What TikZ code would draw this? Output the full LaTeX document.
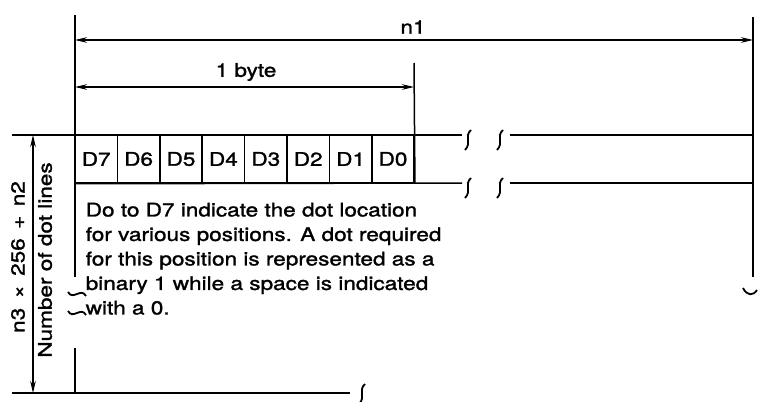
\documentclass[tikz,border=0pt]{standalone}
\usepackage{fontspec}
\setmainfont{TeX Gyre Heros}[FakeStretch=1.2]
\newfontfamily\lblfont{TeX Gyre Heros}[FakeStretch=1.2,FakeBold=1.4]
\usetikzlibrary{arrows.meta}
\begin{document}
\begin{tikzpicture}[x=0.5pt,y=-0.5pt,line width=0.75pt,
  lbl/.style={inner sep=0pt,font=\lblfont\fontsize{9.4}{12.25}\selectfont},
  cell/.style={draw,minimum width=21.2pt,minimum height=24pt,inner sep=0pt,lbl},
  dim/.style={{Stealth[length=6pt,width=2.8pt]}-{Stealth[length=6pt,width=2.8pt]}},
  vbrk/.pic={\draw[line width=0.9pt] (3,-5) .. controls (-4,1) and (4,8) .. (-3,15);},
  hbrk/.pic={\draw[line width=0.9pt] (-9,-2) .. controls (-4,7) and (4,-7) .. (9,2);},
  smile/.pic={\draw[line width=0.9pt] (-8,-4) .. controls (-4,4) and (2,4) .. (6,-2);}]
\useasboundingbox (0,0) rectangle (758,401);

% key coordinates
\coordinate (Ltop) at (75,15);
\coordinate (Lbrk) at (75,277);
\coordinate (Lres) at (75,348);
\coordinate (Lbot) at (75,393);
\coordinate (Rtop) at (753,17);
\coordinate (Rbot) at (753,277);
\coordinate (Btop) at (414,63);
\coordinate (n1L) at (75,40);
\coordinate (n1R) at (753,40);
\coordinate (byL) at (75,87);
\coordinate (byR) at (414,87);
\coordinate (rowTL) at (12,135);
\coordinate (rowTM) at (462,135);
\coordinate (rowTN) at (510,135);
\coordinate (rowTR) at (753,135);
\coordinate (rowBM) at (462,183);
\coordinate (rowBN) at (510,183);
\coordinate (rowBR) at (753,183);
\coordinate (botL) at (12,393);
\coordinate (botM) at (350,393);
\coordinate (hA) at (33,135);
\coordinate (hB) at (33,393);

% cells
\foreach \i/\t in {0/D7,1/D6,2/D5,3/D4,4/D3,5/D2,6/D1,7/D0}
  \node[cell] (c\i) at ({75+42.4*(\i+0.5)},159) {\t};

% lines
\draw (Ltop) -- (Lbrk);
\draw (Lres) -- (Lbot);
\draw (Rtop) -- (Rbot);
\draw (Btop) -- (c7.south east);
\draw (rowTL) -- (rowTM);
\draw (rowTN) -- (rowTR);
\draw (c0.south west) -- (rowBM);
\draw (rowBN) -- (rowBR);
\draw (botL) -- (botM);

% break marks
\pic at (468,135) {vbrk};
\pic at (500,135) {vbrk};
\pic at (468,183) {vbrk};
\pic at (500,183) {vbrk};
\pic at (362,389) {vbrk};
\pic at (77,294) {hbrk};
\pic at (77,313) {hbrk};
\pic at (751,292) {smile};

% dimensions
\draw[dim] (n1L) -- (n1R);
\draw[dim] (byL) -- (byR);
\draw[dim] (hA) -- (hB);

% labels
\node[lbl] (n1) at (413,27) {n1};
\node[lbl] (byte) at (246,72) {1 byte};
\node[lbl,rotate=90] (num) at (18,257) {n3\,\ ×\ \,256\,\ +\ \,n2};
\node[lbl,rotate=90] (dots) at (45,260) {Number of dot lines};
\node[lbl,anchor=north west,align=left] (desc) at (85,202)
  {Do to D7 indicate the dot location\\
   for various positions. A dot required\\
   for this position is represented as a\\
   binary 1 while a space is indicated\\
   with a 0.};
\end{tikzpicture}
\end{document}
